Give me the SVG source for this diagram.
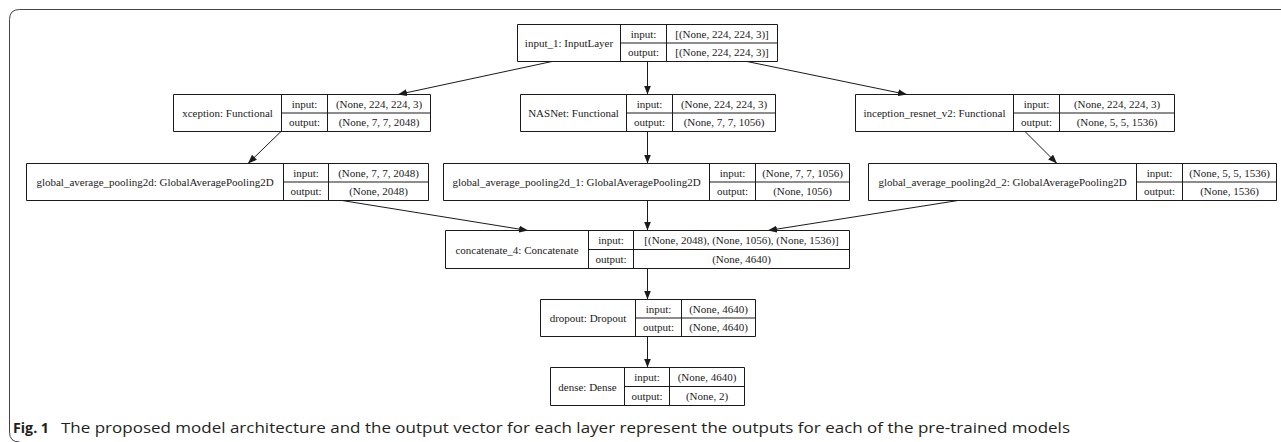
<svg xmlns="http://www.w3.org/2000/svg" width="1281" height="442" viewBox="0 0 1281 442">
<defs>
<style>
.box{fill:none;stroke:#1a1a1a;stroke-width:1}
.t{font-family:"Liberation Serif","Times New Roman",serif;font-size:11px;fill:#1a1a1a;text-anchor:middle}
.e{fill:none;stroke:#1a1a1a;stroke-width:1;marker-end:url(#ah)}
.cap{font-family:"Open Sans","Liberation Sans",Arial,sans-serif;font-size:15px;fill:#231f20}
</style>
<marker id="ah" markerUnits="userSpaceOnUse" markerWidth="9" markerHeight="7" refX="9" refY="3.5" orient="auto">
<path d="M0,0 L9,3.5 L0,7 z" fill="#1a1a1a"/>
</marker>
</defs>
<rect width="1281" height="442" fill="#fff"/>
<path d="M1281,9.5 H19.5 Q9.5,9.5 9.5,19.5 V432 Q9.5,442 19.5,442" fill="none" stroke="#444" stroke-width="1"/>

<g id="connectors">
<line class="e" x1="552" y1="61.5" x2="398" y2="94.5"/>
<line class="e" x1="647.5" y1="61.5" x2="647.5" y2="94.5"/>
<line class="e" x1="747" y1="61.5" x2="907" y2="94.5"/>
<line class="e" x1="281" y1="131.5" x2="248" y2="163.5"/>
<line class="e" x1="647.5" y1="131.5" x2="647.5" y2="163.5"/>
<line class="e" x1="1025" y1="131.5" x2="1057" y2="163.5"/>
<line class="e" x1="342" y1="200.5" x2="528" y2="230.5"/>
<line class="e" x1="647.5" y1="200.5" x2="647.5" y2="230.5"/>
<line class="e" x1="958" y1="200.5" x2="768" y2="230.5"/>
<line class="e" x1="647.5" y1="268.5" x2="647.5" y2="299.5"/>
<line class="e" x1="647.5" y1="336.5" x2="647.5" y2="367.5"/>
</g>

<g id="input_1">
<path class="box" d="M517.5,24.5 H777.5 V61.5 H517.5 Z M620.5,24.5 V61.5 M666.5,24.5 V61.5 M620.5,43 H777.5"/>
<text class="t" x="569" y="47">input_1: InputLayer</text>
<text class="t" x="643.5" y="37.75">input:</text>
<text class="t" x="643.5" y="56.25">output:</text>
<text class="t" x="722" y="37.75">[(None, 224, 224, 3)]</text>
<text class="t" x="722" y="56.25">[(None, 224, 224, 3)]</text>
</g>

<g id="xception">
<path class="box" d="M173.5,94.5 H430.5 V131.5 H173.5 Z M281.5,94.5 V131.5 M327.5,94.5 V131.5 M281.5,113 H430.5"/>
<text class="t" x="227.5" y="117">xception: Functional</text>
<text class="t" x="304.5" y="107.75">input:</text>
<text class="t" x="304.5" y="126.25">output:</text>
<text class="t" x="379" y="107.75">(None, 224, 224, 3)</text>
<text class="t" x="379" y="126.25">(None, 7, 7, 2048)</text>
</g>

<g id="NASNet">
<path class="box" d="M520.5,94.5 H775.5 V131.5 H520.5 Z M626.5,94.5 V131.5 M672.5,94.5 V131.5 M626.5,113 H775.5"/>
<text class="t" x="573.5" y="117">NASNet: Functional</text>
<text class="t" x="649.5" y="107.75">input:</text>
<text class="t" x="649.5" y="126.25">output:</text>
<text class="t" x="724" y="107.75">(None, 224, 224, 3)</text>
<text class="t" x="724" y="126.25">(None, 7, 7, 1056)</text>
</g>

<g id="inception_resnet_v2">
<path class="box" d="M855.5,94.5 H1174.5 V131.5 H855.5 Z M1013.5,94.5 V131.5 M1059.5,94.5 V131.5 M1013.5,113 H1174.5"/>
<text class="t" x="934.5" y="117">inception_resnet_v2: Functional</text>
<text class="t" x="1036.5" y="107.75">input:</text>
<text class="t" x="1036.5" y="126.25">output:</text>
<text class="t" x="1117" y="107.75">(None, 224, 224, 3)</text>
<text class="t" x="1117" y="126.25">(None, 5, 5, 1536)</text>
</g>

<g id="global_average_pooling2d">
<path class="box" d="M26.5,163.5 H428.5 V200.5 H26.5 Z M283.5,163.5 V200.5 M328.5,163.5 V200.5 M283.5,182 H428.5"/>
<text class="t" x="155" y="186">global_average_pooling2d: GlobalAveragePooling2D</text>
<text class="t" x="306" y="176.75">input:</text>
<text class="t" x="306" y="195.25">output:</text>
<text class="t" x="378.5" y="176.75">(None, 7, 7, 2048)</text>
<text class="t" x="378.5" y="195.25">(None, 2048)</text>
</g>

<g id="global_average_pooling2d_1">
<path class="box" d="M443.5,163.5 H849.5 V200.5 H443.5 Z M709.5,163.5 V200.5 M755.5,163.5 V200.5 M709.5,182 H849.5"/>
<text class="t" x="576.5" y="186">global_average_pooling2d_1: GlobalAveragePooling2D</text>
<text class="t" x="732.5" y="176.75">input:</text>
<text class="t" x="732.5" y="195.25">output:</text>
<text class="t" x="802.5" y="176.75">(None, 7, 7, 1056)</text>
<text class="t" x="802.5" y="195.25">(None, 1056)</text>
</g>

<g id="global_average_pooling2d_2">
<path class="box" d="M868.5,163.5 H1276.5 V200.5 H868.5 Z M1136.5,163.5 V200.5 M1182.5,163.5 V200.5 M1136.5,182 H1276.5"/>
<text class="t" x="1002.5" y="186">global_average_pooling2d_2: GlobalAveragePooling2D</text>
<text class="t" x="1159.5" y="176.75">input:</text>
<text class="t" x="1159.5" y="195.25">output:</text>
<text class="t" x="1229.5" y="176.75">(None, 5, 5, 1536)</text>
<text class="t" x="1229.5" y="195.25">(None, 1536)</text>
</g>

<g id="concatenate_4">
<path class="box" d="M445.5,230.5 H849.5 V268.5 H445.5 Z M588.5,230.5 V268.5 M633.5,230.5 V268.5 M588.5,249.5 H849.5"/>
<text class="t" x="517" y="253.5">concatenate_4: Concatenate</text>
<text class="t" x="611" y="244">input:</text>
<text class="t" x="611" y="263">output:</text>
<text class="t" x="741.5" y="244">[(None, 2048), (None, 1056), (None, 1536)]</text>
<text class="t" x="741.5" y="263">(None, 4640)</text>
</g>

<g id="dropout">
<path class="box" d="M540.5,299.5 H755.5 V336.5 H540.5 Z M635.5,299.5 V336.5 M681.5,299.5 V336.5 M635.5,318 H755.5"/>
<text class="t" x="588" y="322">dropout: Dropout</text>
<text class="t" x="658.5" y="312.75">input:</text>
<text class="t" x="658.5" y="331.25">output:</text>
<text class="t" x="718.5" y="312.75">(None, 4640)</text>
<text class="t" x="718.5" y="331.25">(None, 4640)</text>
</g>

<g id="dense">
<path class="box" d="M550.5,367.5 H744.5 V405.5 H550.5 Z M624.5,367.5 V405.5 M669.5,367.5 V405.5 M624.5,386.5 H744.5"/>
<text class="t" x="587.5" y="390.5">dense: Dense</text>
<text class="t" x="647" y="381">input:</text>
<text class="t" x="647" y="400">output:</text>
<text class="t" x="707" y="381">(None, 4640)</text>
<text class="t" x="707" y="400">(None, 2)</text>
</g>

<g id="caption">
<text class="cap" x="13" y="433" font-weight="bold" textLength="36" lengthAdjust="spacingAndGlyphs">Fig. 1</text>
<text class="cap" x="61" y="433" textLength="1009" lengthAdjust="spacingAndGlyphs">The proposed model architecture and the output vector for each layer represent the outputs for each of the pre-trained models</text>
</g>
</svg>
